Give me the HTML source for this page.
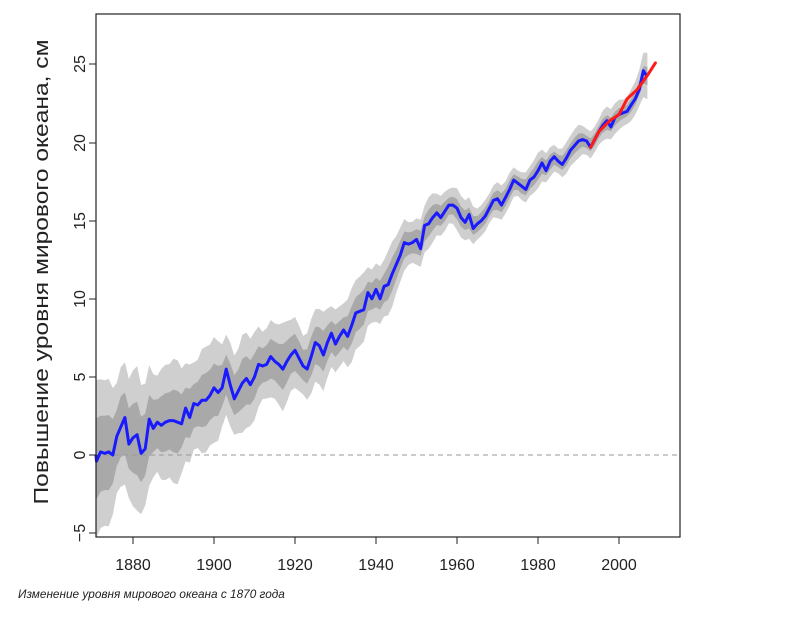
<!DOCTYPE html>
<html><head><meta charset="utf-8"><style>
body{margin:0;background:#fff;width:790px;height:617px;overflow:hidden}
svg{display:block}
text{font-family:"Liberation Sans",sans-serif;fill:#222}
</style></head><body>
<svg id="s" width="790" height="617" viewBox="0 0 790 617">
<g id="bands"></g>
<line x1="96" y1="455" x2="680" y2="455" stroke="#999" stroke-width="1" stroke-dasharray="5,4"/>
<g id="lines"></g>
<rect x="96" y="14" width="584" height="523" fill="none" stroke="#222" stroke-width="1.2"/>
<g stroke="#222" stroke-width="1">
<line x1="89" y1="64" x2="96" y2="64"/><line x1="89" y1="143" x2="96" y2="143"/><line x1="89" y1="221" x2="96" y2="221"/><line x1="89" y1="299" x2="96" y2="299"/><line x1="89" y1="377" x2="96" y2="377"/><line x1="89" y1="455" x2="96" y2="455"/><line x1="89" y1="533" x2="96" y2="533"/>
<line x1="133" y1="537" x2="133" y2="544"/><line x1="214" y1="537" x2="214" y2="544"/><line x1="295" y1="537" x2="295" y2="544"/><line x1="376" y1="537" x2="376" y2="544"/><line x1="457" y1="537" x2="457" y2="544"/><line x1="538" y1="537" x2="538" y2="544"/><line x1="619" y1="537" x2="619" y2="544"/>
</g>
<g font-size="16" text-anchor="middle">
<text transform="translate(85,64) rotate(-90)">25</text>
<text transform="translate(85,143) rotate(-90)">20</text>
<text transform="translate(85,221) rotate(-90)">15</text>
<text transform="translate(85,299) rotate(-90)">10</text>
<text transform="translate(85,377) rotate(-90)">5</text>
<text transform="translate(85,455) rotate(-90)">0</text>
<text transform="translate(85,533) rotate(-90)">−5</text>
<text x="133" y="570">1880</text><text x="214" y="570">1900</text><text x="295" y="570">1920</text><text x="376" y="570">1940</text><text x="457" y="570">1960</text><text x="538" y="570">1980</text><text x="619" y="570">2000</text>
</g>
<text transform="translate(48,272) rotate(-90)" font-size="20" text-anchor="middle" fill="#333" textLength="465" lengthAdjust="spacingAndGlyphs">Повышение уровня мирового океана, см</text>
<text x="18" y="598" font-size="11.8" font-style="italic" fill="#333">Изменение уровня мирового океана с 1870 года</text>
</svg>
<script>
var v=[0,-0.4,0.2,0.1,0.2,0,1.2,1.8,2.4,0.7,1.1,1.3,0.1,0.4,2.3,1.7,2.1,1.9,2.1,2.2,2.2,2.1,2.0,3.0,2.4,3.3,3.2,3.5,3.5,3.8,4.3,4.0,4.3,5.5,4.5,3.6,4.1,4.6,4.9,4.5,5.0,5.8,5.7,5.8,6.3,6.0,5.8,5.5,6.0,6.4,6.7,6.2,5.7,5.5,6.3,7.2,7.0,6.4,7.2,7.8,7.1,7.6,8.0,7.6,8.3,9.1,9.2,9.3,10.4,10.0,10.6,10.0,10.8,10.9,11.6,
12.2,12.8,13.6,13.5,13.6,13.8,13.2,14.7,14.8,15.2,15.5,15.2,15.6,16.0,16.0,15.8,15.2,14.9,15.4,14.5,14.8,15.0,15.3,15.8,16.3,16.4,16.0,16.5,17.0,17.6,17.4,17.2,17.0,17.6,17.8,18.2,18.7,18.2,18.8,19.1,18.8,18.6,19.0,19.5,19.8,20.1,20.2,20.1,19.7,20.2,20.7,21.1,21.4,21.0,21.6,21.8,21.9,22.0,22.4,22.8,23.4,24.6,24.2];
function X(y){return 92.5+(y-1870)*4.05}function Y(c){return 455-c*15.62}
function interp(p,y){for(var i=0;i<p.length-1;i++){if(y<=p[i+1][0]){var t=(y-p[i][0])/(p[i+1][0]-p[i][0]);return p[i][1]+t*(p[i+1][1]-p[i][1]);}}return p[p.length-1][1];}
var ow=[[1870,4.5],[1880,4],[1900,3],[1920,2.3],[1940,2],[1950,1.5],[1970,1],[2000,0.9],[2007,1.3]];
var iw=[[1870,2.3],[1900,1.5],[1920,1.2],[1940,1],[1960,0.6],[2000,0.4],[2007,0.5]];
function sm(i){var s=0;for(var k=-1;k<=1;k++){var j=Math.max(0,Math.min(v.length-1,i+k));s+=v[j];}return s/3;}
function band(wp,col,j){var up=[],dn=[];for(var i=0;i<v.length;i++){var yr=1870+i;var w=interp(wp,yr)*(1+j*(Math.sin(i*0.7)*0.12+Math.sin(i*1.9)*0.06));var c=(v[i]+sm(i))/2;var x=X(yr);if(i==0)x=96;up.push(x.toFixed(1)+","+Y(c+w).toFixed(1));dn.unshift(x.toFixed(1)+","+Y(c-w).toFixed(1));}
return '<polygon fill="'+col+'" points="'+up.concat(dn).join(" ")+'"/>';}
document.getElementById("bands").innerHTML=band(ow,"#cfcfcf",1)+band(iw,"#a9a9a9",1);
var pts=[];for(var i=0;i<v.length;i++){pts.push((i==0?96:X(1870+i)).toFixed(1)+","+Y(v[i]).toFixed(1));}
var red=[[1993,19.7],[1995,20.7],[1997.7,21.4],[2000,21.8],[2002,22.8],[2004.5,23.4],[2007,24.3],[2009,25.1]].map(function(p){return X(p[0]).toFixed(1)+","+Y(p[1]).toFixed(1)});
document.getElementById("lines").innerHTML='<polyline fill="none" stroke="#1a1aff" stroke-width="3" stroke-linejoin="round" points="'+pts.join(" ")+'"/><polyline fill="none" stroke="#ff1a1a" stroke-width="3" stroke-linejoin="round" stroke-linecap="round" points="'+red.join(" ")+'"/>';
</script>
</body></html>
